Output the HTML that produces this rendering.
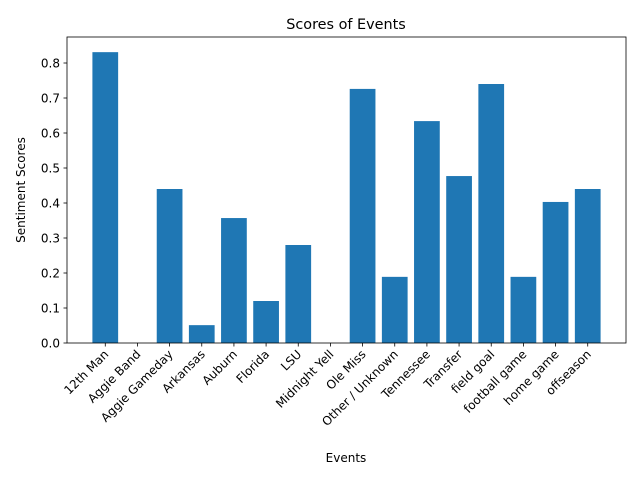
<!DOCTYPE html>
<html><head><meta charset="utf-8"><style>
body{margin:0;background:#fff}
svg text{font-family:"DejaVu Sans","Liberation Sans",sans-serif;fill:#000}
</style></head><body>
<svg id="chart" width="640" height="480" xmlns="http://www.w3.org/2000/svg">
<rect width="640" height="480" fill="#fff"/>
<text x="346" y="29" font-size="14.4" text-anchor="middle">Scores of Events</text>
<text x="346" y="462" font-size="12" text-anchor="middle">Events</text>
<text transform="translate(25,190) rotate(-90)" font-size="12" text-anchor="middle">Sentiment Scores</text>
<g id="bars"></g><g id="ticks"></g>
<rect x="67" y="37" width="559" height="306" fill="none" stroke="#000" stroke-width="0.8"/>
</svg>
<script>
const categories=["12th Man","Aggie Band","Aggie Gameday","Arkansas","Auburn","Florida","LSU","Midnight Yell","Ole Miss","Other / Unknown","Tennessee","Transfer","field goal","football game","home game","offseason"];
const scores=[0.831,0,0.44,0.051,0.357,0.12,0.28,0,0.726,0.189,0.634,0.477,0.74,0.189,0.403,0.44];
const yTicks=[0,0.1,0.2,0.3,0.4,0.5,0.6,0.7,0.8];
const NS="http://www.w3.org/2000/svg";
const L=67,R=626,T=37,B=343;
const n=categories.length;
const xmin=-0.4-(n-0.2)*0.05, xmax=n-1+0.4+(n-0.2)*0.05;
const x=v=>L+(v-xmin)/(xmax-xmin)*(R-L);
const y=v=>B-v/0.8743*(B-T);
function mk(t,a){const e=document.createElementNS(NS,t);for(const k in a)e.setAttribute(k,a[k]);return e;}
const gb=document.getElementById('bars'),gt=document.getElementById('ticks');
scores.forEach((s,i)=>{
 const r=mk('rect',{x:x(i-0.4),y:y(s),width:x(i+0.4)-x(i-0.4),height:B-y(s),fill:'#1f77b4'});
 
 
 gb.appendChild(r);
});
categories.forEach((c,i)=>{
 const cx=x(i);
 const l=mk('line',{x1:cx,x2:cx,y1:B,y2:B+3.5,stroke:'#000','stroke-width':0.8});
 
 
 gt.appendChild(l);
 const t=mk('text',{transform:`translate(${cx+4},${B+12}) rotate(-45)`,'font-size':12,'text-anchor':'end'});
 t.textContent=c;
 
 
 gt.appendChild(t);
});
yTicks.forEach(v=>{
 const yy=y(v);
 const l=mk('line',{x1:L-3.5,x2:L,y1:yy,y2:yy,stroke:'#000','stroke-width':0.8});
 
 
 gt.appendChild(l);
 const t=mk('text',{x:L-7,y:yy+4.5,'font-size':12,'text-anchor':'end'});
 t.textContent=v.toFixed(1);
 
 
 gt.appendChild(t);
});
</script>
</body></html>
